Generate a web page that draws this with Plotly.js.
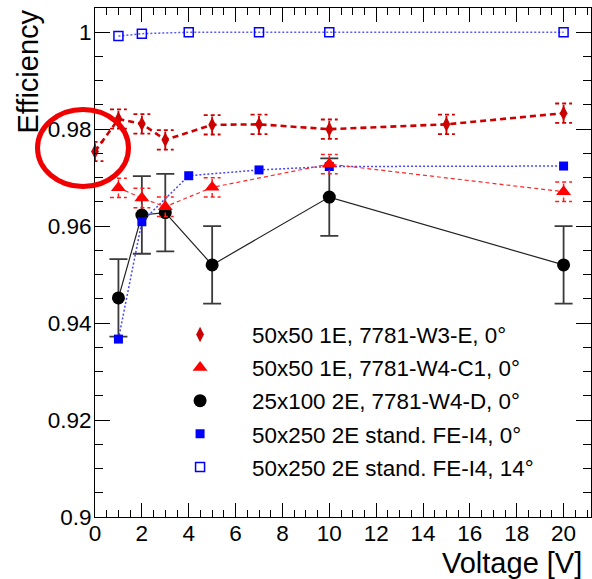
<!DOCTYPE html>
<html>
<head>
<meta charset="utf-8">
<script src="https://cdn.plot.ly/plotly-3.0.1.min.js"></script>
<style>
  html, body { margin: 0; padding: 0; background: #ffffff; }
  #chart { width: 592px; height: 579px; }
</style>
</head>
<body>
<div id="chart"></div>
<script>
// Hit efficiency versus bias voltage for several pixel sensor layouts

// 50x50 1E, 7781-W3-E, 0 deg
const w3eVolt = [0, 1, 2, 3, 5, 7, 10, 15, 20];
const w3eEff  = [0.9754, 0.9821, 0.9811, 0.9778, 0.9809, 0.9810, 0.9800, 0.9810, 0.9833];
const w3eErr  = [0.002, 0.002, 0.002, 0.002, 0.002, 0.002, 0.002, 0.002, 0.002];

// 50x50 1E, 7781-W4-C1, 0 deg
const w4c1Volt = [1, 2, 3, 5, 10, 20];
const w4c1Eff  = [0.9679, 0.9658, 0.9640, 0.9680, 0.9728, 0.9671];
const w4c1Err  = [0.002, 0.002, 0.002, 0.002, 0.002, 0.002];

// 25x100 2E, 7781-W4-D, 0 deg
const w4dVolt = [1, 2, 3, 5, 10, 20];
const w4dEff  = [0.9452, 0.9623, 0.9628, 0.9520, 0.9660, 0.9520];
const w4dErr  = [0.008, 0.008, 0.008, 0.008, 0.008, 0.008];

// 50x250 2E standard FE-I4, 0 deg
const fei4Volt = [1, 2, 4, 7, 10, 20];
const fei4Eff  = [0.9367, 0.9609, 0.9704, 0.9716, 0.9723, 0.9724];

// 50x250 2E standard FE-I4, 14 deg
const fei4TiltVolt = [1, 2, 4, 7, 10, 20];
const fei4TiltEff  = [0.9992, 0.9997, 1.0000, 1.0000, 1.0000, 1.0000];

const legendNames = [
  '50x50 1E, 7781-W3-E, 0\u00b0',
  '50x50 1E, 7781-W4-C1, 0\u00b0',
  '25x100 2E, 7781-W4-D, 0\u00b0',
  '50x250 2E stand. FE-I4, 0\u00b0',
  '50x250 2E stand. FE-I4, 14\u00b0'
];

const FONT = 'Liberation Sans, Arial, Helvetica, sans-serif';
const X_RANGE = [0, 21.17];
const Y_RANGE = [0.9, 1.005];
const CAP_HALF = 0.36; // half width of the dashed error caps, in volts

// Dashed error bars: a vertical segment plus two caps per point
function errorSegments(xs, ys, errs) {
  const ex = [], ey = [];
  xs.forEach((x, i) => {
    const lo = ys[i] - errs[i], hi = ys[i] + errs[i];
    ex.push(x, x, null, x - CAP_HALF, x + CAP_HALF, null, x - CAP_HALF, x + CAP_HALF, null);
    ey.push(lo, hi, null, hi, hi, null, lo, lo, null);
  });
  return { x: ex, y: ey };
}

const w3eBars = errorSegments(w3eVolt, w3eEff, w3eErr);
const w4c1Bars = errorSegments(w4c1Volt, w4c1Eff, w4c1Err);

const traces = [
  // 25x100 2E (black)
  { x: w4dVolt, y: w4dEff, mode: 'lines', showlegend: false, hoverinfo: 'skip',
    line: { color: '#222222', width: 1.2 } },
  { x: w4dVolt, y: w4dEff, mode: 'markers', name: legendNames[2], legendrank: 3, legendgroup: 'g3',
    marker: { symbol: 'circle', size: 13, color: '#000000' },
    error_y: { type: 'data', array: w4dErr, visible: true, color: '#3a3a3a', thickness: 1.8, width: 9 } },

  // FE-I4 0 deg (filled blue squares)
  { x: fei4Volt, y: fei4Eff, mode: 'lines', showlegend: false, hoverinfo: 'skip',
    line: { color: 'rgb(70,70,255)', width: 1.5, dash: '2px,2px' } },
  { x: fei4Volt, y: fei4Eff, mode: 'markers', name: legendNames[3], legendrank: 4, legendgroup: 'g4',
    marker: { symbol: 'square', size: 9, color: '#0000ff' } },

  // FE-I4 14 deg (open blue squares)
  { x: fei4TiltVolt, y: fei4TiltEff, mode: 'lines', showlegend: false, hoverinfo: 'skip',
    line: { color: 'rgb(90,90,255)', width: 1.5, dash: '2px,2px' } },
  { x: fei4TiltVolt, y: fei4TiltEff, mode: 'markers', name: legendNames[4], legendrank: 5, legendgroup: 'g5',
    cliponaxis: false,
    marker: { symbol: 'square-open', size: 9, color: '#0000ff', line: { width: 1.5, color: '#0000ff' } } },

  // 50x50 W4-C1 (red triangles)
  { x: w4c1Volt, y: w4c1Eff, mode: 'lines', showlegend: false, hoverinfo: 'skip',
    line: { color: 'rgb(255,40,40)', width: 1.2, dash: '4px,3px' } },
  { x: w4c1Bars.x, y: w4c1Bars.y, mode: 'lines', showlegend: false, hoverinfo: 'skip',
    line: { color: 'rgb(255,30,30)', width: 1.5, dash: '4px,3px' } },
  { x: w4c1Volt, y: w4c1Eff, mode: 'markers', name: legendNames[1], legendrank: 2, legendgroup: 'g2',
    marker: { symbol: 'triangle-up', size: 13, color: '#ff0000' } },

  // 50x50 W3-E (dark red diamonds)
  { x: w3eVolt, y: w3eEff, mode: 'lines', showlegend: false, hoverinfo: 'skip',
    line: { color: '#cc0000', width: 2.6, dash: '6px,4px' } },
  { x: w3eBars.x, y: w3eBars.y, mode: 'lines', showlegend: false, hoverinfo: 'skip',
    line: { color: '#cc0000', width: 1.8, dash: '4px,3px' } },
  { x: w3eVolt, y: w3eEff, mode: 'markers', name: legendNames[0], legendrank: 1, legendgroup: 'g1',
    cliponaxis: false,
    marker: { symbol: 'diamond-tall', size: 11, color: '#cc0000' } }
];

const axisCommon = {
  showgrid: false, zeroline: false,
  showline: true, linecolor: '#000000', linewidth: 1, mirror: 'allticks',
  ticks: 'inside', tickcolor: '#000000', tickwidth: 1,
  tickfont: { family: FONT, size: 22.5, color: '#000000' }
};

const layout = {
  width: 592, height: 579,
  margin: { l: 95, r: 1, t: 8, b: 62 },
  paper_bgcolor: '#ffffff', plot_bgcolor: '#ffffff',
  font: { family: FONT, color: '#000000' },
  showlegend: true,
  legend: {
    x: 0.107, xanchor: 'left', y: 0.400, yanchor: 'top',
    bgcolor: 'rgba(0,0,0,0)', borderwidth: 0,
    font: { family: FONT, size: 22.4, color: '#000000' },
    traceorder: 'grouped', tracegroupgap: 1, itemwidth: 94
  },
  xaxis: Object.assign({}, axisCommon, {
    range: X_RANGE, tickmode: 'linear', tick0: 0, dtick: 2, ticklen: 14,
    ticklabelstandoff: -4,
    minor: { tickmode: 'linear', tick0: 0, dtick: 0.5, ticks: 'inside', ticklen: 7, tickcolor: '#000000', tickwidth: 1 }
  }),
  yaxis: Object.assign({}, axisCommon, {
    range: Y_RANGE, tickmode: 'linear', tick0: 0.9, dtick: 0.02, ticklen: 15,
    ticklabelstandoff: -2,
    minor: { tickmode: 'linear', tick0: 0.9, dtick: 0.005, ticks: 'inside', ticklen: 8, tickcolor: '#000000', tickwidth: 1 }
  }),
  annotations: [
    { text: 'Efficiency', xref: 'paper', yref: 'paper', x: -0.136, y: 1, xanchor: 'center', yanchor: 'top',
      textangle: -90, showarrow: false, font: { family: FONT, size: 29, color: '#000000' } },
    { text: 'Voltage [V]', xref: 'paper', yref: 'paper', x: 0.986, y: -0.055, xanchor: 'right', yanchor: 'top',
      showarrow: false, font: { family: FONT, size: 29, color: '#000000' } }
  ],
  shapes: [
    // highlight ring around the zero-volt point
    { type: 'circle', xref: 'paper', yref: 'paper', x0: -0.1159, x1: 0.0675, y0: 0.6493, y1: 0.8006,
      line: { color: '#f00000', width: 5 }, fillcolor: 'rgba(0,0,0,0)', layer: 'above' }
  ]
};

Plotly.newPlot('chart', traces, layout, { displayModeBar: false, staticPlot: true });
</script>
</body>
</html>
